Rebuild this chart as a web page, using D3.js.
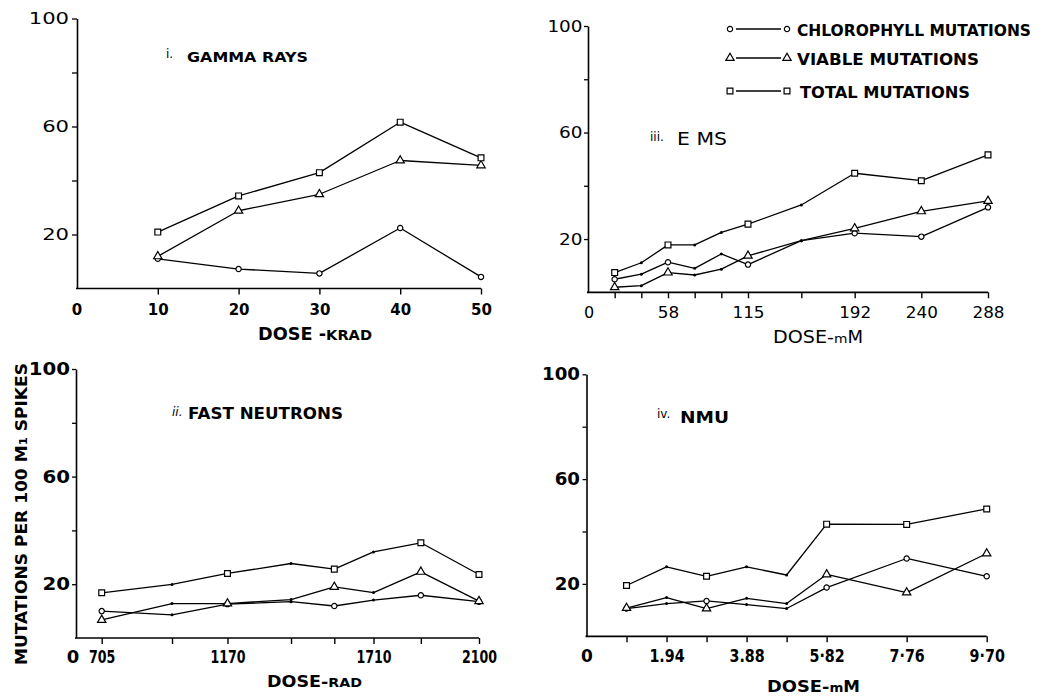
<!DOCTYPE html>
<html>
<head>
<meta charset="utf-8">
<script src="https://cdn.jsdelivr.net/npm/d3@7"></script>
<style>
  html, body { margin: 0; padding: 0; background: #fff; }
  svg { display: block; }
  text { font-family: "DejaVu Sans", sans-serif; fill: #000; }
</style>
</head>
<body>
<svg id="chart" width="1044" height="699"></svg>
<script>
// ---- Panel i: gamma rays, dose in kR ----
const gammaDose = [10, 20, 30, 40, 50];
const gammaChlorophyll = [11.0, 7.2, 5.6, 22.4, 4.3];
const gammaViable = [11.9, 28.8, 34.9, 47.4, 45.6];
const gammaTotal = [20.9, 34.3, 42.9, 61.6, 48.4];
const gammaMarked = [10, 20, 30, 40, 50];
const gammaTickValues = [10, 20, 30, 40, 50];
const gammaTickLabels = ["10", "20", "30", "40", "50"];

// ---- Panel ii: fast neutrons, dose in rad ----
const neutronDose = [705, 965, 1170, 1405, 1565, 1710, 1885, 2100];
const neutronChlorophyll = [10.0, 8.6, 12.6, 13.5, 11.9, 14.1, 15.9, 13.5];
const neutronViable = [6.7, 12.8, 12.8, 14.3, 19.0, 16.9, 24.6, 13.7];
const neutronTotal = [16.8, 19.9, 24.0, 27.7, 25.6, 32.0, 35.4, 23.6];
const neutronMarked = [705, 1170, 1565, 1885, 2100];
const neutronTickValues = [705, 1170, 1710, 2100];
const neutronTickLabels = ["705", "1170", "1710", "2100"];

// ---- Panel iii: EMS, dose in mM ----
const emsDose = [19.2, 38.4, 57.6, 76.8, 96, 115.2, 153.6, 192, 240, 288];
const emsChlorophyll = [4.9, 6.8, 11.3, 9.0, 14.4, 10.4, 19.4, 22.2, 20.9, 31.9];
const emsViable = [1.9, 2.5, 7.4, 6.5, 8.7, 13.7, 19.4, 24.0, 30.4, 34.3];
const emsTotal = [7.4, 11.1, 17.8, 17.8, 22.5, 25.6, 32.8, 44.7, 41.9, 51.6];
const emsMarked = [19.2, 57.6, 115.2, 192, 240, 288];
const emsTickValues = [57.6, 115.2, 192, 240, 288];
const emsTickLabels = ["58", "115", "192", "240", "288"];

// ---- Panel iv: NMU, dose in mM ----
const nmuDose = [0.97, 1.94, 2.91, 3.88, 4.85, 5.82, 7.76, 9.70];
const nmuChlorophyll = [10.6, 12.5, 13.5, 12.1, 10.6, 18.6, 29.7, 22.9];
const nmuViable = [10.8, 14.8, 10.6, 14.5, 12.5, 23.6, 16.7, 31.6];
const nmuTotal = [19.4, 26.5, 22.9, 26.5, 23.4, 42.8, 42.7, 48.6];
const nmuMarked = [0.97, 2.91, 5.82, 7.76, 9.70];
const nmuTickValues = [1.94, 3.88, 5.82, 7.76, 9.70];
const nmuTickLabels = ["1.94", "3.88", "5·82", "7·76", "9·70"];

// ---- shared ----
const yTickValues = [20, 40, 60, 80, 100];
const yTickLabels = ["20", "", "60", "", "100"];
const seriesNames = ["CHLOROPHYLL MUTATIONS", "VIABLE MUTATIONS", "TOTAL MUTATIONS"];
const seriesShapes = ["circle", "triangle", "square"];

const svg = d3.select("#chart");

const symbolTypes = {
  circle: d3.symbol().type(d3.symbolCircle).size(22),
  triangle: d3.symbol().type(d3.symbolTriangle).size(30),
  square: d3.symbol().type(d3.symbolSquare).size(34)
};

// stretch or squeeze a text run to a target width
function fitWidth(sel, w, adjust) {
  sel.attr("textLength", w).attr("lengthAdjust", adjust || "spacingAndGlyphs");
}
function scaleWidth(sel, f) {
  sel.each(function () {
    if (!this.textContent) return;
    const w = this.getComputedTextLength();
    d3.select(this).attr("textLength", w * f).attr("lengthAdjust", "spacingAndGlyphs");
  });
}

function drawPanel(p) {
  const g = svg.append("g");
  const x = d3.scaleLinear().domain(p.xDomain).range(p.xRange);
  const y = d3.scaleLinear().domain([0, 100]).range([p.yBottom, p.yTop]);

  // y axis with ticks every 20, labels at 20/60/100
  const ya = g.append("g")
    .attr("transform", `translate(${p.axisX},0)`)
    .call(d3.axisLeft(y).tickValues(yTickValues)
      .tickFormat((d, i) => yTickLabels[i])
      .tickSize(p.yTickSize).tickSizeOuter(0).tickPadding(p.yPad));
  ya.select(".domain").attr("stroke-width", 1.6);
  ya.selectAll(".tick line").attr("stroke-width", 1.3);
  ya.selectAll("text")
    .style("font-size", p.yFont + "px")
    .style("font-weight", p.yWeight)
    .call(scaleWidth, p.yScaleW);

  // x baseline from the y axis to the last dose
  const xEnd = x(p.dose[p.dose.length - 1]);
  g.append("line")
    .attr("x1", p.axisX - 1).attr("x2", xEnd)
    .attr("y1", p.yBottom).attr("y2", p.yBottom)
    .attr("stroke", "#000").attr("stroke-width", 1.7);

  // tick marks at every dose
  const xt = g.append("g")
    .attr("transform", `translate(0,${p.yBottom})`)
    .call(d3.axisBottom(x).tickValues(p.tickDoses).tickSize(6).tickFormat(""));
  xt.select(".domain").remove();
  xt.selectAll(".tick line").attr("stroke-width", 1.4);

  // tick labels
  const xl = g.append("g")
    .attr("transform", `translate(0,${p.yBottom})`)
    .call(d3.axisBottom(x).tickValues(p.tickValues)
      .tickFormat((d, i) => p.tickLabels[i]).tickSize(0));
  xl.select(".domain").remove();
  xl.selectAll("text")
    .attr("y", p.xLabelBase - p.yBottom).attr("dy", 0)
    .style("font-size", p.xFont + "px")
    .style("font-weight", p.xWeight)
    .call(scaleWidth, p.xScaleW);

  // origin label
  g.append("text")
    .attr("x", p.zeroX).attr("y", p.xLabelBase)
    .attr("text-anchor", "middle")
    .style("font-size", p.xFont + "px").style("font-weight", p.xWeight)
    .text("0");

  // series lines, then markers on top
  const line = d3.line().x(d => x(d.dose)).y(d => y(d.v));
  p.series.forEach((vals, si) => {
    const pts = p.dose.map((d, i) => ({ dose: d, v: vals[i] }));
    g.append("path")
      .datum(pts)
      .attr("d", line)
      .attr("fill", "none")
      .attr("stroke", "#000")
      .attr("stroke-width", 1.3)
      .attr("stroke-linejoin", "round");
    const marked = pts.filter(d => p.marked.includes(d.dose));
    const plain = pts.filter(d => !p.marked.includes(d.dose));
    g.selectAll(null).data(plain).enter().append("circle")
      .attr("cx", d => x(d.dose)).attr("cy", d => y(d.v))
      .attr("r", 1.5).attr("fill", "#000");
    g.selectAll(null).data(marked).enter().append("path")
      .attr("d", symbolTypes[seriesShapes[si]])
      .attr("transform", d => `translate(${x(d.dose)},${y(d.v)})`)
      .attr("fill", "#fff").attr("stroke", "#000").attr("stroke-width", 1.2);
  });
  return g;
}

// ---- panel i ----
drawPanel({
  dose: gammaDose, series: [gammaChlorophyll, gammaViable, gammaTotal], marked: gammaMarked,
  tickDoses: gammaTickValues, tickValues: gammaTickValues, tickLabels: gammaTickLabels,
  xDomain: [0, 50], xRange: [77, 481], axisX: 77, zeroX: 77,
  yTop: 18.5, yBottom: 288.5,
  yTickSize: 5, yPad: 3, yFont: 16, yWeight: "normal", yScaleW: 1.32,
  xLabelBase: 315, xFont: 15, xWeight: "bold", xScaleW: 1.0
});

// ---- panel iii ----
drawPanel({
  dose: emsDose, series: [emsChlorophyll, emsViable, emsTotal], marked: emsMarked,
  tickDoses: emsDose, tickValues: emsTickValues, tickLabels: emsTickLabels,
  xDomain: [0, 288], xRange: [588, 988], axisX: 588, zeroX: 589,
  yTop: 26, yBottom: 292.3,
  yTickSize: 4, yPad: 1.5, yFont: 16, yWeight: "normal", yScaleW: 1.15,
  xLabelBase: 318, xFont: 16, xWeight: "normal", xScaleW: 1.05
});

// ---- panel ii ----
drawPanel({
  dose: neutronDose, series: [neutronChlorophyll, neutronViable, neutronTotal], marked: neutronMarked,
  tickDoses: neutronDose, tickValues: neutronTickValues, tickLabels: neutronTickLabels,
  xDomain: [705, 2100], xRange: [101.7, 479], axisX: 76, zeroX: 73,
  yTop: 369, yBottom: 638,
  yTickSize: 4, yPad: 2, yFont: 18, yWeight: "bold", yScaleW: 1.1,
  xLabelBase: 663, xFont: 18, xWeight: "bold", xScaleW: 0.7
});

// ---- panel iv ----
drawPanel({
  dose: nmuDose, series: [nmuChlorophyll, nmuViable, nmuTotal], marked: nmuMarked,
  tickDoses: nmuDose, tickValues: nmuTickValues, tickLabels: nmuTickLabels,
  xDomain: [0, 9.70], xRange: [586.5, 986.7], axisX: 586.5, zeroX: 587,
  yTop: 374.3, yBottom: 636.3,
  yTickSize: 4, yPad: 2.5, yFont: 17, yWeight: "bold", yScaleW: 1.07,
  xLabelBase: 662, xFont: 17, xWeight: "bold", xScaleW: 0.84
});

// ---- panel titles ----
function title(prefix, px, py, italic, label, lx, ly, size, weight, width) {
  svg.append("text").attr("x", px).attr("y", py)
    .style("font-size", "12px").style("font-style", italic ? "italic" : "normal").text(prefix);
  svg.append("text").attr("x", lx).attr("y", ly)
    .style("font-size", size + "px").style("font-weight", weight)
    .text(label).call(fitWidth, width);
}
title("i.", 166, 58, false, "GAMMA RAYS", 187, 62, 14, "bold", 121);
title("iii.", 650, 141, false, "E MS", 677, 145, 17, "normal", 50);
title("ii.", 172, 416, true, "FAST NEUTRONS", 188, 419, 15, "bold", 155);
title("iv.", 657, 418, false, "NMU", 680, 423, 16, "bold", 49);

// ---- axis titles ----
function doseTitle(x, yb, parts, width) {
  const t = svg.append("text").attr("x", x).attr("y", yb);
  parts.forEach(pt => {
    t.append("tspan").style("font-size", pt[1] + "px").style("font-weight", pt[2]).text(pt[0]);
  });
  t.call(fitWidth, width);
}
doseTitle(258, 340, [["DOSE -", 17, "bold"], ["KRAD", 14, "bold"]], 114);
doseTitle(773, 343, [["DOSE-", 18, "normal"], ["m", 13, "normal"], ["M", 17, "normal"]], 90);
doseTitle(267, 687, [["DOSE-", 16, "bold"], ["RAD", 13, "bold"]], 95);
doseTitle(767, 692, [["DOSE-", 16, "bold"], ["m", 12, "bold"], ["M", 15, "bold"]], 93);

// rotated y title shared by the lower-left panel
const yt = svg.append("text")
  .attr("transform", "translate(27,665) rotate(-90)")
  .style("font-size", "16px").style("font-weight", "bold");
yt.append("tspan").text("MUTATIONS PER 100 M");
yt.append("tspan").style("font-size", "11px").text("1");
yt.append("tspan").text(" SPIKES");
yt.call(fitWidth, 302);

// ---- legend ----
const legendRows = [29, 58, 91];
const legendWidths = [234, 182, 170];
const legendTextX = [797, 797, 800];
seriesNames.forEach((name, i) => {
  const yy = legendRows[i];
  const lg = svg.append("g");
  lg.append("line").attr("x1", 736).attr("x2", 781).attr("y1", yy).attr("y2", yy)
    .attr("stroke", "#000").attr("stroke-width", 1.3);
  [730, 787].forEach(cx => {
    lg.append("path").attr("d", symbolTypes[seriesShapes[i]])
      .attr("transform", `translate(${cx},${yy})`)
      .attr("fill", "#fff").attr("stroke", "#000").attr("stroke-width", 1.2);
  });
  lg.append("text").attr("x", legendTextX[i]).attr("y", yy + 7)
    .style("font-size", "16px").style("font-weight", "bold")
    .text(name).call(fitWidth, legendWidths[i]);
});
</script>
</body>
</html>
